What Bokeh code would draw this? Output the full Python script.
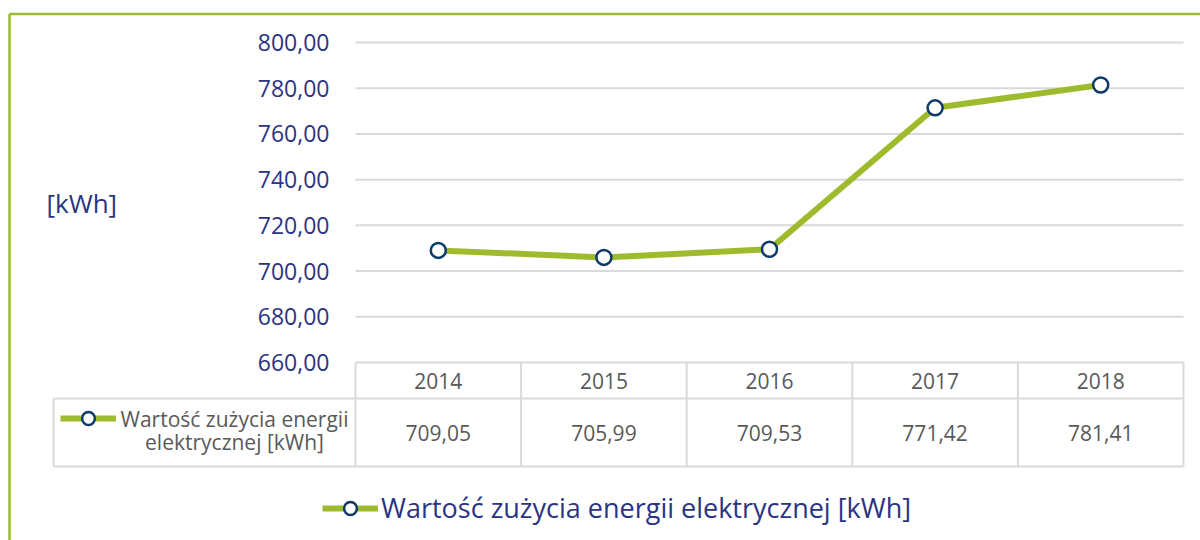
from bokeh.plotting import figure
from bokeh.models import Range1d, Legend, LegendItem, ColumnDataSource
from bokeh.core.properties import value
from bokeh.embed import file_html
from bokeh.resources import INLINE

# ---- data ----
years = ["2014", "2015", "2016", "2017", "2018"]
consumption = [709.05, 705.99, 709.53, 771.42, 781.41]
consumption_labels = ["709,05", "705,99", "709,53", "771,42", "781,41"]
y_ticks = [660, 680, 700, 720, 740, 760, 780, 800]
y_tick_labels = ["660,00", "680,00", "700,00", "720,00", "740,00", "760,00", "780,00", "800,00"]
series_name = "Wartość zużycia energii elektrycznej [kWh]"
series_name_lines = ["Wartość zużycia energii", "elektrycznej [kWh]"]
axis_title = "[kWh]"

# ---- style ----
FONT = "Open Sans"
GREEN = "#9DBB2D"
NAVY = "#0E3A6A"
TEXT_NAVY = "#2B3483"
GREY_TXT = "#595959"
GRID = "#D9D9D9"

W, H = 1200, 540
PLOT_L, PLOT_R = 355, 1183       # plot area / table columns (px)
PLOT_T, PLOT_B = 42, 362         # top tick (800) and bottom tick (660) (px)
ROW1_B, ROW2_B = 398, 466        # table row bottoms (px)
CELL_L = 53                      # legend cell left (px)

n = len(years)
col_px = (PLOT_R - PLOT_L) / n
ppu = (PLOT_B - PLOT_T) / (y_ticks[-1] - y_ticks[0])

x0 = -0.5 - PLOT_L / col_px
x1 = -0.5 + (W - PLOT_L) / col_px
y1 = y_ticks[-1] + PLOT_T / ppu
y0 = y_ticks[0] - (H - PLOT_B) / ppu

p = figure(width=W, height=H, output_backend="svg", toolbar_location=None,
           x_range=Range1d(x0, x1), y_range=Range1d(y0, y1),
           min_border=0, x_axis_location=None, y_axis_location=None)
# layout coordinate system in pixels (x from left, y from top)
p.extra_x_ranges = {"px": Range1d(0, W)}
p.extra_y_ranges = {"px": Range1d(H, 0)}
p.grid.visible = False
p.outline_line_color = None
p.background_fill_color = "white"
p.border_fill_color = "white"

idx = list(range(n))
edges = [i - 0.5 for i in range(n + 1)]

# outer chart border
p.segment(x0=[9, 9], y0=[13.5, 13.5], x1=[W + 5, 9], y1=[13.5, H + 5],
          x_range_name="px", y_range_name="px", line_color=GREEN, line_width=2.5)

# horizontal gridlines
p.segment(x0=[edges[0]] * len(y_ticks), y0=y_ticks, x1=[edges[-1]] * len(y_ticks), y1=y_ticks,
          line_color=GRID, line_width=2)

# y tick labels
p.text(x=[PLOT_L - 26] * len(y_ticks), y=y_ticks, text=y_tick_labels, x_range_name="px",
       text_align="right", text_baseline="middle", text_font=value(FONT),
       text_font_size="23px", text_color=TEXT_NAVY)

# axis title
p.text(x=[46], y=[(PLOT_T + PLOT_B) / 2], text=[axis_title], x_range_name="px", y_range_name="px",
       text_align="left", text_baseline="middle", text_font=value(FONT),
       text_font_size="26px", text_color=TEXT_NAVY)

# data table
p.segment(x0=edges, y0=[PLOT_B] * (n + 1), x1=edges, y1=[ROW2_B] * (n + 1),
          y_range_name="px", line_color=GRID, line_width=2)
p.segment(x0=[CELL_L, CELL_L, CELL_L], y0=[ROW1_B, ROW2_B, ROW1_B],
          x1=[PLOT_R, PLOT_R, CELL_L], y1=[ROW1_B, ROW2_B, ROW2_B],
          x_range_name="px", y_range_name="px", line_color=GRID, line_width=2)

src = ColumnDataSource(dict(x=idx, year=years, y=consumption, lab=consumption_labels))
p.text(x="x", y=(PLOT_B + ROW1_B) / 2, text="year", source=src, y_range_name="px",
       text_align="center", text_baseline="middle", text_font=value(FONT),
       text_font_size="21px", text_color=GREY_TXT)
p.text(x="x", y=(ROW1_B + ROW2_B) / 2, text="lab", source=src, y_range_name="px",
       text_align="center", text_baseline="middle", text_font=value(FONT),
       text_font_size="21px", text_color=GREY_TXT)

# legend text inside the table cell
p.text(x=[234, 234], y=[418, 441], text=series_name_lines, x_range_name="px", y_range_name="px",
       text_align="center", text_baseline="middle", text_font=value(FONT),
       text_font_size="21px", text_color=GREY_TXT)

# series
ln = p.line(x="x", y="y", source=src, line_color=GREEN, line_width=6)
sc = p.scatter(x="x", y="y", source=src, size=15, fill_color="white",
               line_color=NAVY, line_width=2.5)

# legend glyph in the table cell
cell_leg = Legend(items=[LegendItem(label="", renderers=[ln, sc])],
                  location=(60, H - 418 - 16), glyph_width=56, glyph_height=32,
                  padding=0, margin=0, spacing=0, label_width=0, label_standoff=0,
                  label_height=32, background_fill_alpha=0, border_line_alpha=0)
p.add_layout(cell_leg, "center")

# bottom legend
leg = Legend(items=[LegendItem(label=series_name, renderers=[ln, sc])],
             location=(322, 14), glyph_width=56, glyph_height=32, label_height=32,
             padding=0, margin=0, spacing=0, label_standoff=3,
             label_text_font=FONT, label_text_font_size="27px", label_text_color=TEXT_NAVY,
             background_fill_alpha=0, border_line_alpha=0)
p.add_layout(leg, "center")

open("out.html", "w").write(file_html(p, INLINE))
